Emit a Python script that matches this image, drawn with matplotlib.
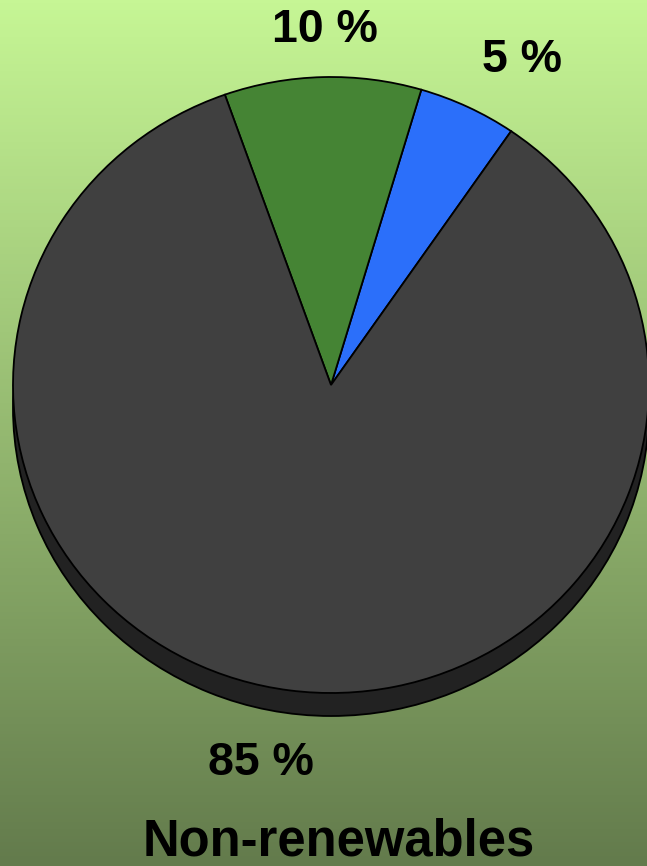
import numpy as np
import matplotlib.pyplot as plt
from matplotlib.colors import LinearSegmentedColormap

# Data
categories = ['Other renewables', 'Hydro', 'Non-renewables']
shares = [5, 10, 85]
colors = ['#2b6ffa', '#458434', '#404040']
title = 'Non-renewables'

W, H = 647, 866
fig = plt.figure(figsize=(W / 100, H / 100), dpi=100)
ax = fig.add_axes([0, 0, 1, 1])

# pie is slightly squashed vertically: stretch the y data units
rx, ry = 318, 308
s = rx / ry
cx, cy = 331, (H - 385) * s

# background gradient
bg = LinearSegmentedColormap.from_list('bg', ['#637b4c', '#c6f695'])
grad = np.linspace(0, 1, 256).reshape(-1, 1)
ax.imshow(grad, cmap=bg, origin='lower', aspect='auto',
          extent=[0, W, 0, H * s], zorder=0)

# shadow / side of the pie
ax.pie([sum(shares)], colors=['#222222'], center=(cx, cy - 23 * s), radius=rx,
       wedgeprops=dict(edgecolor='black', linewidth=1.3), frame=True)
# top face
wedges, _ = ax.pie(shares, colors=colors, startangle=55.5, counterclock=True,
                   center=(cx, cy), radius=rx,
                   wedgeprops=dict(edgecolor='black', linewidth=1.3), frame=True)

ax.set_xlim(0, W)
ax.set_ylim(0, H * s)
ax.set_aspect('auto')
ax.axis('off')

font = ['Liberation Sans Narrow', 'Liberation Sans', 'DejaVu Sans']
label_px = [(522, 60), (325, 30), (261, 763)]
for v, (px, py) in zip(shares, label_px):
    ax.text(px, (H - py) * s, f'{v} %', ha='center', va='center',
            fontsize=33.5, fontweight='bold', family=font)
ax.text(339, (H - 842) * s, title, ha='center', va='center',
        fontsize=36.5, fontweight='bold', family=font)

fig.savefig('out.png', dpi=100)
